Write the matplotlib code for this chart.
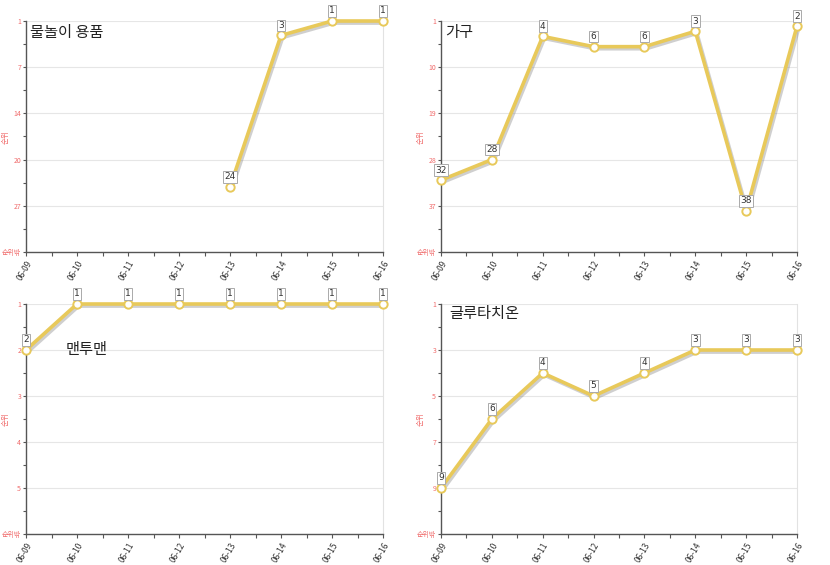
import matplotlib
matplotlib.use("Agg")
import matplotlib.pyplot as plt
import matplotlib.patheffects as pe
import numpy as np

plt.rcParams["font.family"] = ["Noto Sans CJK KR", "DejaVu Sans"]

DATES = ["06-09", "06-10", "06-11", "06-12", "06-13", "06-14", "06-15", "06-16"]

TITLES = ["물놀이 용품", "가구", "맨투맨", "글루타치온"]

# ranks per date; None = not ranked that day
RANK_SWIM = [None, None, None, None, 24, 3, 1, 1]
RANK_FURN = [32, 28, 4, 6, 6, 3, 38, 2]
RANK_SWEAT = [2, 1, 1, 1, 1, 1, 1, 1]
RANK_GLUTA = [9, 6, 4, 5, 4, 3, 3, 3]

# lowest shown rank (bottom of axis, labelled "순위밖")
AXIS_BOTTOM = [33, 46, 6, 11]

SERIES = [RANK_SWIM, RANK_FURN, RANK_SWEAT, RANK_GLUTA]

# title position in axes coords
TITLE_POS = [(0.012, 0.95), (0.012, 0.95), (0.11, 0.80), (0.022, 0.96)]

LINE = "#e8c95a"
RED = "#f06a6a"

fig = plt.figure(figsize=(8.3, 5.65), dpi=100)
boxes = [
    (26, 21, 383, 252),
    (441, 21, 797, 252),
    (26, 304, 383, 534),
    (441, 304, 797, 534),
]

for i, (x0, y0, x1, y1) in enumerate(boxes):
    ax = fig.add_axes([x0 / 830, 1 - y1 / 565, (x1 - x0) / 830, (y1 - y0) / 565])
    vals = SERIES[i]
    bottom = AXIS_BOTTOM[i]
    xs = [k for k, v in enumerate(vals) if v is not None]
    ys = [vals[k] for k in xs]

    ax.plot(xs, ys, color=LINE, lw=2.6, solid_capstyle="round", zorder=3, clip_on=False,
            path_effects=[pe.SimpleLineShadow(offset=(1.2, -1.5), shadow_color="#777777", alpha=0.35),
                          pe.Normal()])
    ax.plot(xs, ys, "o", ms=6, mfc="white", mec=LINE, mew=1.4, zorder=4, clip_on=False)
    for x, y in zip(xs, ys):
        ax.annotate(str(y), (x, y), xytext=(0, 4), textcoords="offset points",
                    ha="center", va="bottom", fontsize=6.5, color="#333333",
                    family="DejaVu Sans", zorder=5,
                    bbox=dict(boxstyle="square,pad=0.15", fc="white", ec="#aaaaaa", lw=0.7))

    ax.set_xlim(0, len(DATES) - 1)
    ax.set_ylim(bottom, 1)
    major = np.linspace(1, bottom, 6)
    ax.set_yticks(major)
    labels = [str(int(round(v))) for v in major[:-1]] + ["순위밖"]
    ax.set_yticklabels(labels)
    ax.set_yticks((major[:-1] + major[1:]) / 2, minor=True)
    ax.set_xticks(range(len(DATES)))
    ax.set_xticklabels(DATES, rotation=60, ha="right", rotation_mode="anchor")
    ax.set_xticks(np.arange(0.5, len(DATES) - 1, 1), minor=True)

    ax.tick_params(axis="y", which="both", colors="#555555", labelcolor=RED, labelsize=5,
                   length=2.5, width=0.8, pad=1)
    ax.tick_params(axis="x", which="both", colors="#555555", labelcolor="#333333", labelsize=6,
                   length=3, width=0.8, pad=2)
    ax.grid(axis="y", which="major", color="#e6e6e6", lw=0.8)
    ax.set_axisbelow(True)

    for side in ("left", "bottom"):
        ax.spines[side].set_color("#555555")
        ax.spines[side].set_linewidth(1)
    ax.spines["top"].set_visible(False)
    ax.spines["right"].set_color("#e2e2e2")
    ax.spines["right"].set_linewidth(0.8)

    ax.set_ylabel("순위", color=RED, fontsize=5.5)
    ax.yaxis.set_label_coords(-0.045, 0.5)
    tx, ty = TITLE_POS[i]
    ax.text(tx, ty, TITLES[i], transform=ax.transAxes, fontsize=11, color="#222222",
            ha="left", va="center")

fig.savefig("out.png", dpi=100)
